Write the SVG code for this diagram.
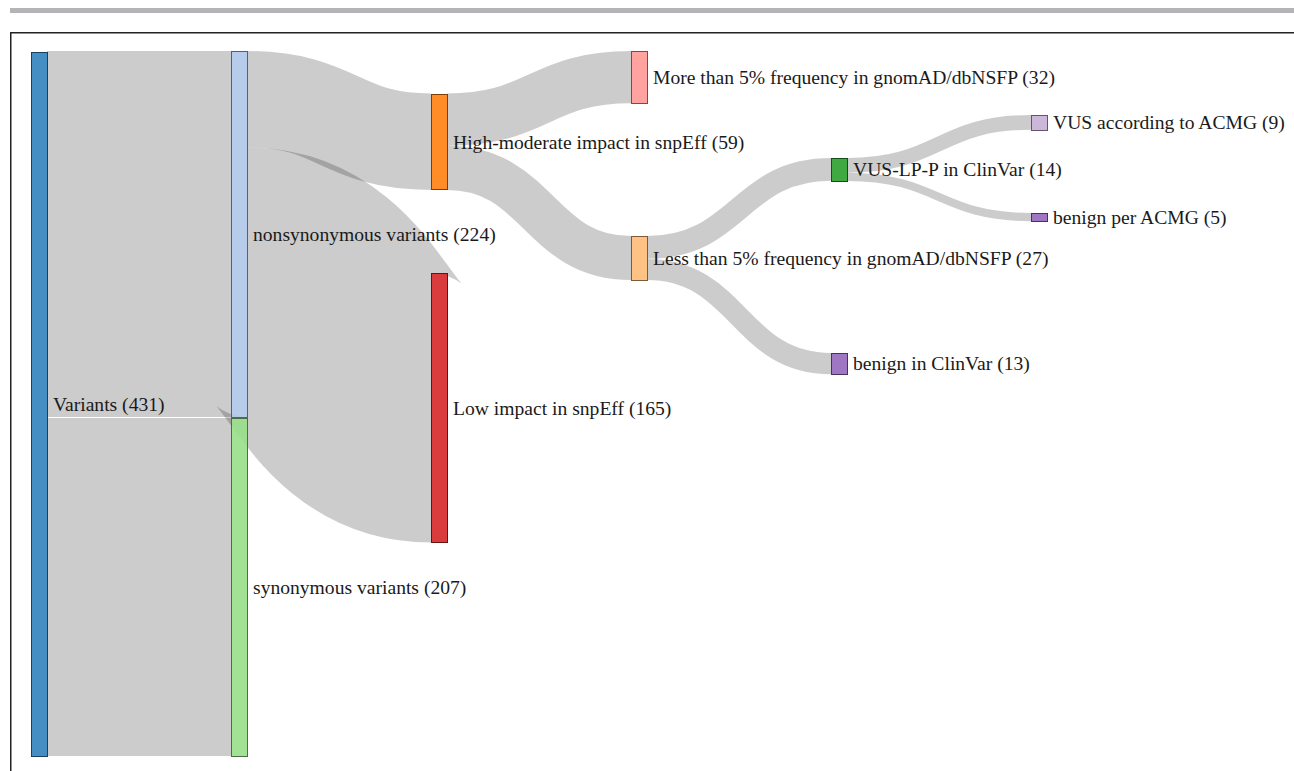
<svg xmlns="http://www.w3.org/2000/svg" width="1294" height="771" viewBox="0 0 1294 771">
<style>
.link{fill:none;stroke:#000;stroke-opacity:0.2}
.node rect{fill-opacity:0.9;shape-rendering:crispEdges;stroke-width:1}
.node text{font-size:19.6px;fill:#1a1a1a}
</style>
<rect x="0" y="0" width="1294" height="771" fill="#fff"/>
<rect x="10" y="8" width="1284" height="5" fill="#b3b3b8"/>
<rect x="10.75" y="32.75" width="1300" height="760" fill="none" stroke="#222" stroke-width="1.5"/>
<g id="links">
<path class="link" d="M47,234 C139,234 139,234 231,234" stroke-width="366"/>
<path class="link" d="M47,587 C139,587 139,587 231,587" stroke-width="338"/>
<path class="link" d="M247,99.2 C339,99.2 339,141.7 431,141.7" stroke-width="96.4"/>
<path class="link" d="M247,282.2 C339,282.2 339,407.75 431,407.75" stroke-width="269.5"/>
<path class="link" d="M447,119.7 C539,119.7 539,77.2 631,77.2" stroke-width="52.3"/>
<path class="link" d="M447,167.9 C539,167.9 539,258 631,258" stroke-width="44.1"/>
<path class="link" d="M647,247.4 C739,247.4 739,169.4 831,169.4" stroke-width="22.9"/>
<path class="link" d="M647,269.5 C739,269.5 739,363.6 831,363.6" stroke-width="21.2"/>
<path class="link" d="M847,165.3 C939,165.3 939,122.4 1031,122.4" stroke-width="14.7"/>
<path class="link" d="M847,176.8 C939,176.8 939,217.1 1031,217.1" stroke-width="8.2"/>
</g>
<g id="nodes" font-family="Liberation Serif, Times New Roman, serif">
<g id="n-variants" class="node"><rect x="31" y="52" width="16" height="704" fill="#3182bd" stroke="#18405d"/><text x="53" y="404" dy="0.35em">Variants (431)</text></g>
<g id="n-nonsyn" class="node"><rect x="231" y="51" width="16" height="366" fill="#aec7e8" stroke="#556170"/><text x="253" y="234" dy="0.35em">nonsynonymous variants (224)</text></g>
<g id="n-syn" class="node"><rect x="231" y="418" width="16" height="338" fill="#98df8a" stroke="#4a6d43"/><text x="253" y="587" dy="0.35em">synonymous variants (207)</text></g>
<g id="n-high" class="node"><rect x="431" y="94" width="16" height="95" fill="#ff7f0e" stroke="#7d3e06"/><text x="453" y="141.7" dy="0.35em">High-moderate impact in snpEff (59)</text></g>
<g id="n-low" class="node"><rect x="431" y="273" width="16" height="269" fill="#d62728" stroke="#681313"/><text x="453" y="407.75" dy="0.35em">Low impact in snpEff (165)</text></g>
<g id="n-more5" class="node"><rect x="631" y="51" width="16" height="52" fill="#ff9896" stroke="#7d4a49"/><text x="653" y="77.2" dy="0.35em">More than 5% frequency in gnomAD/dbNSFP (32)</text></g>
<g id="n-less5" class="node"><rect x="631" y="236" width="16" height="44" fill="#ffbb78" stroke="#7d5b3a"/><text x="653" y="258" dy="0.35em">Less than 5% frequency in gnomAD/dbNSFP (27)</text></g>
<g id="n-vuslpp" class="node"><rect x="831" y="158" width="16" height="23" fill="#2ca02c" stroke="#154e15"/><text x="853" y="169.4" dy="0.35em">VUS-LP-P in ClinVar (14)</text></g>
<g id="n-benignclin" class="node"><rect x="831" y="353" width="16" height="21" fill="#9467bd" stroke="#48325c"/><text x="853" y="363.6" dy="0.35em">benign in ClinVar (13)</text></g>
<g id="n-vusacmg" class="node"><rect x="1031" y="115" width="16" height="15" fill="#c5b0d5" stroke="#605668"/><text x="1053" y="122.4" dy="0.35em">VUS according to ACMG (9)</text></g>
<g id="n-benignacmg" class="node"><rect x="1031" y="213" width="16" height="8" fill="#9467bd" stroke="#48325c"/><text x="1053" y="217.1" dy="0.35em">benign per ACMG (5)</text></g>
</g>
</svg>
